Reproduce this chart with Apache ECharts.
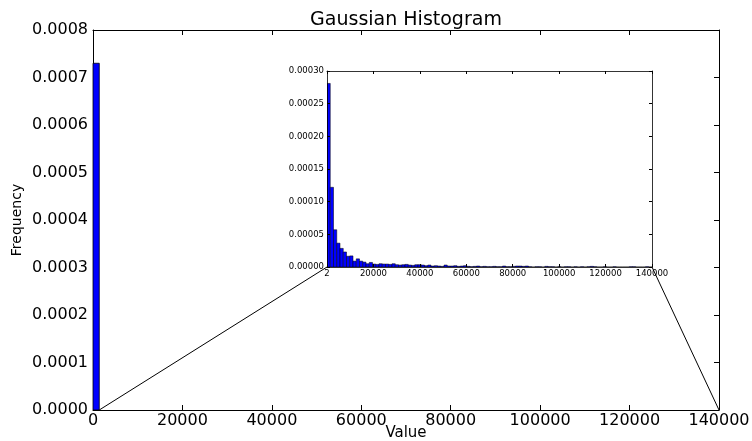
<!DOCTYPE html>
<html>
<head>
<meta charset="utf-8">
<title>Gaussian Histogram</title>
<script src="https://cdn.jsdelivr.net/npm/echarts@6/dist/echarts.min.js"></script>
<style>
  html, body { margin: 0; padding: 0; background: #fff; }
  #chart { width: 752px; height: 441px; }
</style>
</head>
<body>
<div id="chart"></div>
<script>
// main histogram: one visible bin
const mainBinStart = 2;
const mainBinWidth = 1400;
const mainValues = [0.00073];

// inset histogram: 100 bins of ~1400 starting at 2
const insetBinStart = 2;
const insetBinWidth = 1400;
const insetValues = [
  2.81e-4, 1.22e-4, 5.7e-5, 3.65e-5, 2.85e-5, 2.3e-5, 1.65e-5, 1.7e-5, 9e-6, 1.25e-5,
  9e-6, 7.5e-6, 5e-6, 7e-6, 4.5e-6, 4e-6, 5e-6, 4.5e-6, 4.5e-6, 4e-6,
  5e-6, 3.5e-6, 3e-6, 3.5e-6, 4e-6, 3e-6, 2.5e-6, 3.5e-6, 3.5e-6, 3e-6,
  2e-6, 3e-6, 1.5e-6, 2e-6, 1.5e-6, 1e-6, 3e-6, 1.5e-6, 1.5e-6, 2e-6,
  1e-6, 1.5e-6, 2e-6, 1e-6, 0.5e-6, 1e-6, 1.5e-6, 0.5e-6, 1e-6, 0.5e-6,
  0.5e-6, 1e-6, 0.5e-6, 0.5e-6, 1.5e-6, 0.5e-6, 0.5e-6, 1e-6, 1.5e-6, 1.5e-6,
  1e-6, 1.5e-6, 0.5e-6, 0, 0.5e-6, 0.5e-6, 0, 1e-6, 0.5e-6, 0.5e-6,
  0, 0.5e-6, 0, 0.5e-6, 0.5e-6, 0, 0.5e-6, 0, 0.5e-6, 0,
  0.5e-6, 1e-6, 0.5e-6, 0, 0, 0.5e-6, 0, 0, 0.5e-6, 0,
  0, 0, 0, 0.5e-6, 0.5e-6, 0, 0, 0, 0.5e-6, 0
];

const xTicksMain = ['0', '20000', '40000', '60000', '80000', '100000', '120000', '140000'];
const xTicksInset = ['2', '20000', '40000', '60000', '80000', '100000', '120000', '140000'];

// zoomed span marked on the main axes (ends of the connector lines)
const zoomSpan = [1400, 140000];

const FONT = 'DejaVu Sans';

function toBins(start, width, values) {
  return values.map((v, i) => [start + i * width, start + (i + 1) * width, v]);
}

function histRender(params, api) {
  const p0 = api.coord([api.value(0), api.value(2)]);
  const p1 = api.coord([api.value(1), 0]);
  return {
    type: 'rect',
    shape: { x: p0[0], y: p0[1], width: p1[0] - p0[0], height: p1[1] - p0[1] },
    style: { fill: '#0000ff', stroke: '#000', lineWidth: params.seriesIndex === 0 ? 0.8 : 0.5 }
  };
}

function boxAxis(grid, pos, opts) {
  const tickLen = grid === 0 ? 5 : 3;
  return Object.assign({
    type: 'value',
    gridIndex: grid,
    position: pos,
    nameMoveOverlap: false,
    splitLine: { show: false },
    axisLine: { show: true, onZero: false, lineStyle: { color: '#000', width: grid === 0 ? 1 : 0.8 } },
    axisTick: { show: true, inside: true, length: tickLen, lineStyle: { color: '#000' } },
    axisLabel: { show: false }
  }, opts);
}

const chart = echarts.init(document.getElementById('chart'), null, { renderer: 'canvas' });

const option = {
  animation: false,
  backgroundColor: '#fff',
  grid: [
    { left: 93, right: 33, top: 30, bottom: 31, containLabel: false, outerBoundsMode: 'none' },
    { left: 327, top: 71, width: 325, height: 196, show: true, backgroundColor: '#fff', borderWidth: 0, z: 5,
      containLabel: false, outerBoundsMode: 'none' }
  ],
  xAxis: [
    boxAxis(0, 'bottom', {
      min: 0, max: 140000, interval: 20000,
      name: 'Value', nameLocation: 'middle', nameGap: 16,
      nameTextStyle: { fontFamily: FONT, fontSize: 15, color: '#000' },
      axisLabel: {
        show: true, margin: 3, fontFamily: FONT, fontSize: 16, color: '#000',
        formatter: (v) => xTicksMain[Math.round(v / 20000)]
      }
    }),
    // top edge of the main box; carries the chart title centred over the plot
    boxAxis(0, 'top', {
      min: 0, max: 140000, interval: 20000,
      name: 'Gaussian Histogram', nameLocation: 'middle', nameGap: 0,
      nameTextStyle: { fontFamily: FONT, fontSize: 19, color: '#000' }
    }),
    boxAxis(1, 'bottom', {
      min: 0, max: 140000, interval: 20000, z: 6,
      axisLabel: {
        show: true, margin: 2, fontFamily: FONT, fontSize: 8.5, color: '#000',
        formatter: (v) => xTicksInset[Math.round(v / 20000)]
      }
    }),
    boxAxis(1, 'top', { min: 0, max: 140000, interval: 20000, z: 6 })
  ],
  yAxis: [
    boxAxis(0, 'left', {
      min: 0, max: 0.0008, interval: 0.0001,
      name: 'Frequency', nameLocation: 'middle', nameGap: 69,
      nameTextStyle: { fontFamily: FONT, fontSize: 14, color: '#000' },
      axisLabel: {
        show: true, margin: 5, fontFamily: FONT, fontSize: 16, color: '#000',
        formatter: (v) => v.toFixed(4)
      }
    }),
    boxAxis(0, 'right', { min: 0, max: 0.0008, interval: 0.0001 }),
    boxAxis(1, 'left', {
      min: 0, max: 0.0003, interval: 0.00005, z: 6,
      axisLabel: {
        show: true, margin: 3, fontFamily: FONT, fontSize: 8.5, color: '#000',
        formatter: (v) => v.toFixed(5)
      }
    }),
    boxAxis(1, 'right', { min: 0, max: 0.0003, interval: 0.00005, z: 6 })
  ],
  series: [
    {
      type: 'custom', name: 'main',
      xAxisIndex: 0, yAxisIndex: 0,
      renderItem: histRender,
      encode: { x: [0, 1], y: 2 },
      data: toBins(mainBinStart, mainBinWidth, mainValues)
    },
    {
      type: 'custom', name: 'inset',
      xAxisIndex: 2, yAxisIndex: 2, z: 6,
      clip: true,
      renderItem: histRender,
      encode: { x: [0, 1], y: 2 },
      data: toBins(insetBinStart, insetBinWidth, insetValues)
    }
  ]
};

chart.setOption(option);

// connector lines between the zoomed span on the main axes and the inset corners
const mainL = chart.convertToPixel({ xAxisIndex: 0, yAxisIndex: 0 }, [zoomSpan[0], 0]);
const mainR = chart.convertToPixel({ xAxisIndex: 0, yAxisIndex: 0 }, [zoomSpan[1], 0]);
const insL = chart.convertToPixel({ xAxisIndex: 2, yAxisIndex: 2 }, [0, 0]);
const insR = chart.convertToPixel({ xAxisIndex: 2, yAxisIndex: 2 }, [140000, 0]);

chart.setOption({
  graphic: [
    { type: 'line', z: 10, shape: { x1: mainL[0], y1: mainL[1], x2: insL[0], y2: insL[1] }, style: { stroke: '#000', lineWidth: 1 } },
    { type: 'line', z: 10, shape: { x1: mainR[0], y1: mainR[1], x2: insR[0], y2: insR[1] }, style: { stroke: '#000', lineWidth: 1 } }
  ]
});
</script>
</body>
</html>
